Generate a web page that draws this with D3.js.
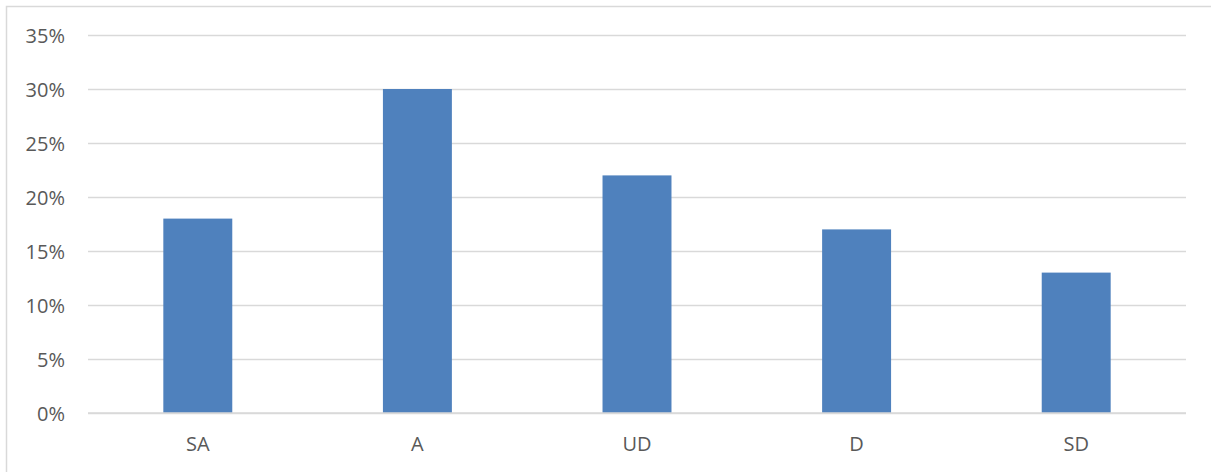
<!DOCTYPE html>
<html>
<head>
<meta charset="utf-8">
<script src="https://cdn.jsdelivr.net/npm/d3@7/dist/d3.min.js"></script>
<style>
  html, body { margin: 0; padding: 0; background: #fff; }
  svg text { font-family: "Open Sans", "Liberation Sans", sans-serif; fill: #595959; }
</style>
</head>
<body>
<svg id="chart" width="1211" height="472"></svg>
<script>
// Survey response categories and their share of respondents
const categories = ["SA", "A", "UD", "D", "SD"];
const shares = [0.18, 0.30, 0.22, 0.17, 0.13];
const yTicks = [0, 0.05, 0.10, 0.15, 0.20, 0.25, 0.30, 0.35];

const svg = d3.select("#chart");
const W = 1211, H = 472;
const plot = { left: 88, right: 1186, top: 35, bottom: 413 };
const fontSize = 20;

// Outer chart frame
svg.append("rect")
  .attr("x", 6.5).attr("y", 6.5)
  .attr("width", W + 10).attr("height", H + 10)
  .attr("fill", "none").attr("stroke", "#d9d9d9").attr("stroke-width", 1.5);

const x = d3.scaleBand()
  .domain(categories)
  .range([plot.left, plot.right])
  .paddingInner(0.686)
  .paddingOuter(0.343);

const y = d3.scaleLinear()
  .domain([0, 0.35])
  .range([plot.bottom, plot.top]);

// Horizontal gridlines with percentage labels
const yAxis = d3.axisLeft(y)
  .tickValues(yTicks)
  .tickFormat(d3.format(".0%"))
  .tickSize(-(plot.right - plot.left))
  .tickPadding(23);

const gy = svg.append("g")
  .attr("transform", `translate(${plot.left},0)`)
  .call(yAxis);
gy.select(".domain").remove();
gy.selectAll(".tick line").attr("stroke", "#d9d9d9").attr("stroke-width", 1.5);
gy.selectAll(".tick text").attr("font-size", fontSize).attr("dy", "0.36em").style("fill", "#595959");

// Bars
svg.append("g").selectAll("rect")
  .data(categories)
  .join("rect")
  .attr("x", d => x(d))
  .attr("width", x.bandwidth())
  .attr("y", (d, i) => y(shares[i]))
  .attr("height", (d, i) => y(0) - y(shares[i]))
  .attr("fill", "#4f81bd");

// Category axis
const xAxis = d3.axisBottom(x).tickSize(0).tickPadding(24);
const gx = svg.append("g")
  .attr("transform", `translate(0,${plot.bottom})`)
  .call(xAxis);
gx.select(".domain").attr("stroke", "#d9d9d9").attr("stroke-width", 1.5)
  .attr("d", `M${plot.left},0H${plot.right}`);
gx.selectAll(".tick text").attr("font-size", fontSize).style("fill", "#595959");
</script>
</body>
</html>
